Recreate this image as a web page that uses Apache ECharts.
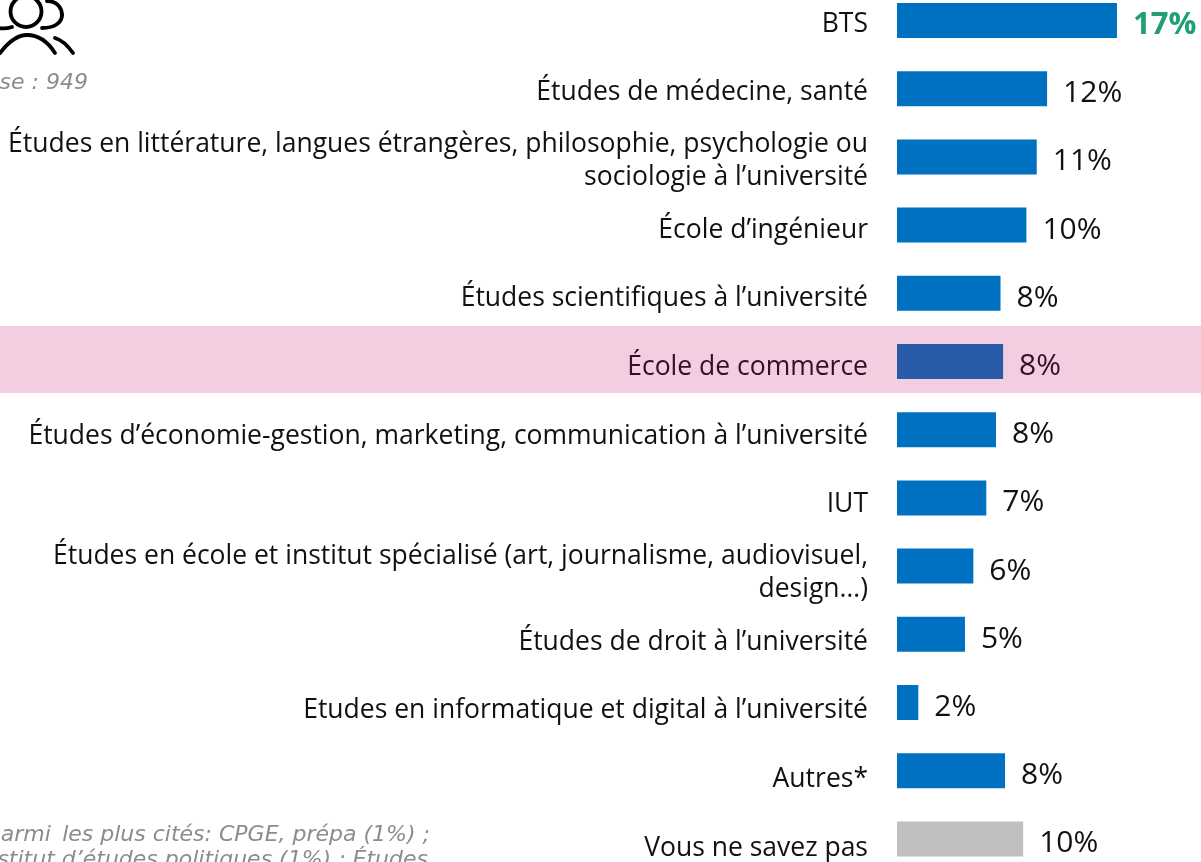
<!DOCTYPE html>
<html><head><meta charset="utf-8">
<style>html,body{margin:0;padding:0;background:#fff}#c{width:1201px;height:862px}</style>
<script src="https://cdn.jsdelivr.net/npm/echarts@6/dist/echarts.min.js"></script>
</head><body><div id="c"></div>
<script>
const categories = ["BTS","Études de médecine, santé","Études en littérature, langues étrangères, philosophie, psychologie ou\nsociologie à l’université","École d’ingénieur","Études scientifiques à l’université","École de commerce","Études d’économie-gestion, marketing, communication à l’université","IUT","Études en école et institut spécialisé (art, journalisme, audiovisuel,\ndesign…)","Études de droit à l’université","Etudes en informatique et digital à l’université","Autres*","Vous ne savez pas"];
const values = [17,11.6,10.8,10,8,8.2,7.65,6.9,5.9,5.25,1.65,8.35,9.75];
const valueLabels = ["17%","12%","11%","10%","8%","8%","8%","7%","6%","5%","2%","8%","10%"];
const baseText = "Base : 949";
const noteLine1 = "Autres parmi\u2009 les plus cités: CPGE, prépa (1%) ;";
const noteLine2 = "Institut d’études politiques (1%) ; Études";
const BLUE="#0070C0",HL="#2A5BA8",GREY="#BFBFBF",DARK="#111111",HLTXT="#3A0C2C",GREEN="#1F9E78";
const FONT="'Open Sans','Noto Sans',sans-serif";
const NOTE="'DejaVu Sans',sans-serif";
const hlIdx=5, greyIdx=12, topIdx=0;
const chart=echarts.init(document.getElementById('c'),null,{renderer:'canvas'});
const stroke={fill:null,stroke:'#000',lineWidth:3.8,lineCap:'round'};
const curve=(x1,y1,cpx1,cpy1,cpx2,cpy2,x2,y2)=>({type:'bezierCurve',silent:true,shape:{x1,y1,cpx1,cpy1,cpx2,cpy2,x2,y2},style:stroke});
const icon=[
 {type:'circle',silent:true,shape:{cx:26,cy:11.5,r:15.5},style:stroke},
 curve(47,1,58,1,62,9,62,15),
 curve(62,15,62,23,54,28,42,28),
 curve(-2,28,4,29,9,28,12,27),
 curve(0,53,10,40,18,35,27,35),
 curve(27,35,38,35,48,42,55,53),
 curve(55,38,62,40,68,46,73,53)
];
chart.setOption({
 animation:false,backgroundColor:'#fff',
 graphic:[
  {type:'rect',silent:true,shape:{x:0,y:326,width:1201,height:67},style:{fill:'#F2CEE0'},z:-10},
  ...icon,
  {type:'text',silent:true,x:88,y:83,style:{text:baseText,align:'right',verticalAlign:'middle',font:"italic 22px "+NOTE,fill:'#8C8C8C'}},
  {type:'text',silent:true,x:430,y:835,style:{text:noteLine1,align:'right',verticalAlign:'middle',font:"italic 22px "+NOTE,fill:'#8C8C8C'}},
  {type:'text',silent:true,x:428,y:860,style:{text:noteLine2,align:'right',verticalAlign:'middle',font:"italic 22px "+NOTE,fill:'#8C8C8C'}}
 ],
 grid:[
  {left:897,top:-13.6,width:258.8,height:886.6,containLabel:false,outerBoundsMode:'none'},
  {left:897,top:-10.3,width:258.8,height:892.7,containLabel:false,outerBoundsMode:'none'}
 ],
 xAxis:[
  {gridIndex:0,type:'value',min:0,max:20,show:false},
  {gridIndex:1,type:'value',min:0,max:20,show:false}
 ],
 yAxis:[
  {gridIndex:0,type:'category',inverse:true,data:categories,axisLine:{show:false},axisTick:{show:false},axisLabel:{show:false},splitLine:{show:false}},
  {gridIndex:1,type:'category',inverse:true,data:categories,axisLine:{show:false},axisTick:{show:false},splitLine:{show:false},
   axisLabel:{show:true,interval:0,margin:29,align:'right',fontFamily:FONT,fontSize:26.5,lineHeight:33,
    color:(v,i)=>i===hlIdx?HLTXT:DARK}}
 ],
 series:[
  {type:'bar',xAxisIndex:0,yAxisIndex:0,barWidth:35,silent:true,
   data:values.map((v,i)=>({value:v,itemStyle:{color:i===hlIdx?HL:i===greyIdx?GREY:BLUE}})),
   label:{show:true,position:'right',distance:17,offset:[-1,5],fontFamily:FONT,fontSize:30,
    formatter:p=>'{'+(p.dataIndex===topIdx?'t':p.dataIndex===hlIdx?'h':'n')+'|'+valueLabels[p.dataIndex]+'}',
    rich:{n:{color:DARK,fontFamily:FONT,fontSize:30},h:{color:HLTXT,fontFamily:FONT,fontSize:30},t:{color:GREEN,fontFamily:FONT,fontSize:31,fontWeight:'bold'}}}},
  {type:'bar',xAxisIndex:1,yAxisIndex:1,barWidth:1,silent:true,data:values,itemStyle:{color:'rgba(0,0,0,0)'}}
 ]
});
</script></body></html>
